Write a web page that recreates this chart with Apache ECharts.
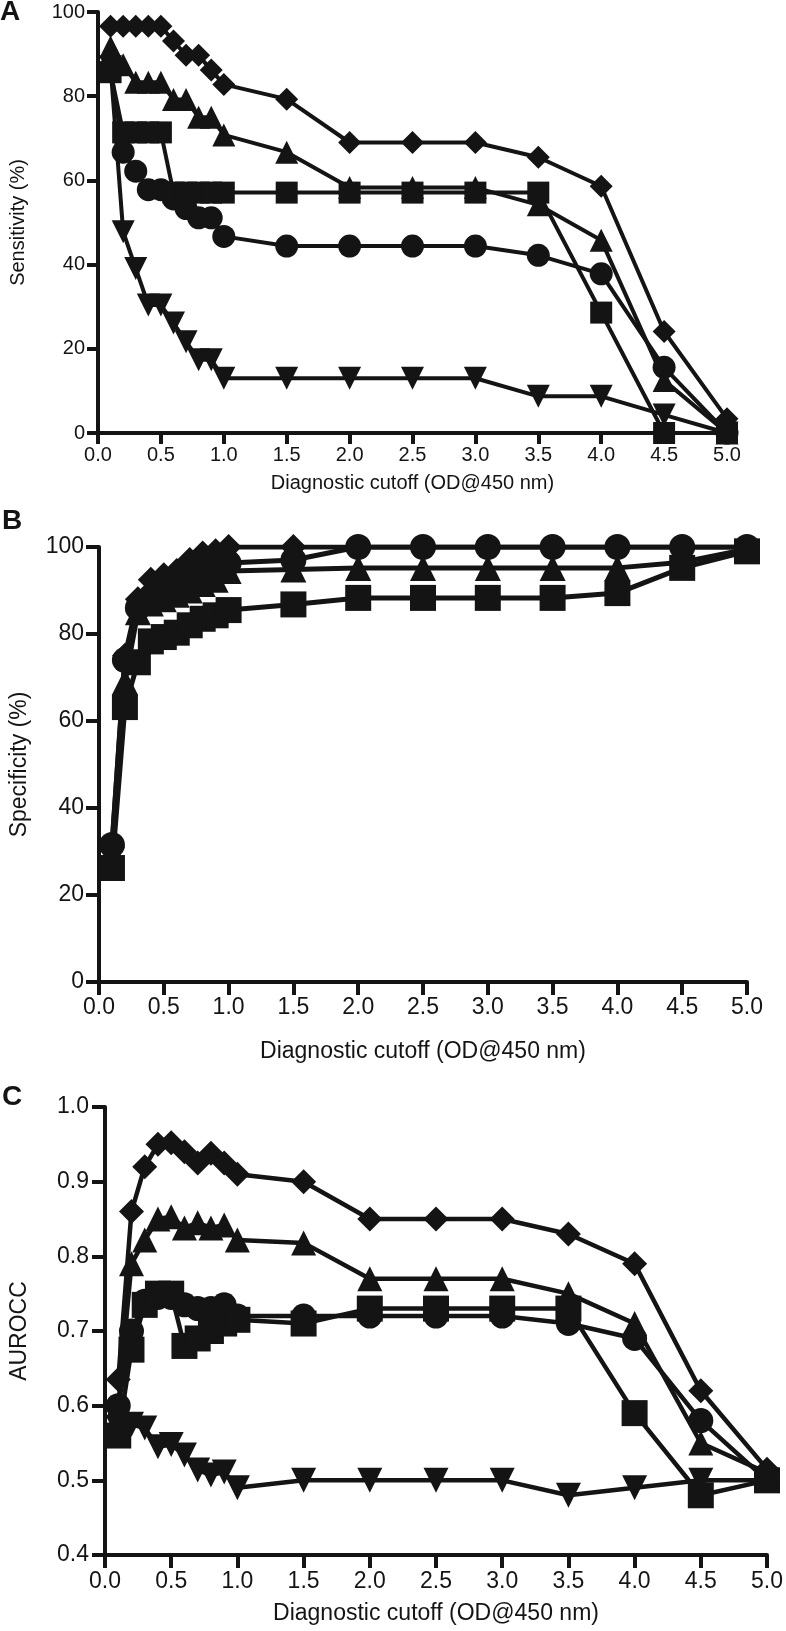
<!DOCTYPE html>
<html>
<head>
<meta charset="utf-8">
<script src="https://cdn.jsdelivr.net/npm/echarts@6/dist/echarts.min.js"></script>
<style>
  html, body { margin: 0; padding: 0; background: #fff; }
  #chart { width: 786px; height: 1631px; }
</style>
</head>
<body>
<div id="chart"></div>
<script>
// cutoff values shared by all three panels
const cutoffs = [0.1, 0.2, 0.3, 0.4, 0.5, 0.6, 0.7, 0.8, 0.9, 1.0, 1.5, 2.0, 2.5, 3.0, 3.5, 4.0, 4.5, 5.0];

// A - sensitivity (%)
const sensDiamond = [96.6, 96.6, 96.6, 96.6, 96.6, 93.1, 89.7, 89.7, 86.2, 82.8, 79.3, 69.0, 69.0, 69.0, 65.5, 58.6, 24.1, 3.4];
const sensTriangle = [91.7, 87.5, 83.3, 83.3, 83.3, 79.2, 79.2, 75.0, 75.0, 70.8, 66.7, 58.3, 58.3, 58.3, 54.2, 45.8, 12.5, 0];
const sensSquare = [85.7, 71.4, 71.4, 71.4, 71.4, 57.1, 57.1, 57.1, 57.1, 57.1, 57.1, 57.1, 57.1, 57.1, 57.1, 28.6, 0, 0];
const sensCircle = [86.7, 66.7, 62.2, 57.8, 57.8, 55.6, 53.3, 51.1, 51.1, 46.7, 44.4, 44.4, 44.4, 44.4, 42.2, 37.8, 15.6, 0];
const sensDown = [87.0, 47.8, 39.1, 30.4, 30.4, 26.1, 21.7, 17.4, 17.4, 13.0, 13.0, 13.0, 13.0, 13.0, 8.7, 8.7, 4.3, 0];

// B - specificity (%)
const specDiamond = [31, 75, 88, 92.5, 93.5, 94.5, 97, 98.5, 99, 100, 100, 100, 100, 100, 100, 100, 100, 100];
const specTriangle = [30, 69, 85, 87, 88, 89, 90, 91.5, 92.5, 94.5, 94.8, 95.2, 95.2, 95.2, 95.2, 95.2, 96.5, 99.5];
const specSquare = [26.2, 63.2, 73.5, 78.3, 79.3, 80.3, 82, 83.5, 84.3, 85.5, 86.8, 88.3, 88.3, 88.3, 88.3, 89.4, 95.2, 99];
const specCircle = [31.5, 74, 86, 88.5, 89.5, 90.5, 92, 93.5, 95, 96.3, 97, 100, 100, 100, 100, 100, 100, 100];

// C - AUROCC
const aucDiamond = [0.635, 0.86, 0.92, 0.95, 0.952, 0.94, 0.925, 0.938, 0.925, 0.91, 0.90, 0.85, 0.85, 0.85, 0.83, 0.79, 0.62, 0.515];
const aucTriangle = [0.60, 0.79, 0.822, 0.85, 0.853, 0.838, 0.845, 0.838, 0.842, 0.822, 0.818, 0.77, 0.77, 0.77, 0.75, 0.71, 0.55, 0.51];
const aucSquare = [0.56, 0.675, 0.735, 0.75, 0.75, 0.68, 0.69, 0.70, 0.71, 0.715, 0.71, 0.73, 0.73, 0.73, 0.73, 0.59, 0.48, 0.50];
const aucCircle = [0.60, 0.70, 0.74, 0.745, 0.745, 0.735, 0.73, 0.73, 0.735, 0.72, 0.72, 0.72, 0.72, 0.72, 0.71, 0.69, 0.58, 0.50];
const aucDown = [0.57, 0.575, 0.57, 0.545, 0.548, 0.534, 0.514, 0.507, 0.511, 0.49, 0.50, 0.50, 0.50, 0.50, 0.48, 0.49, 0.50, 0.50];

const ink = '#141414';
const font = 'Liberation Sans, Arial, Helvetica, sans-serif';

const pairs = (ys) => ys.map((y, i) => [cutoffs[i], y]);

const line = (idx, ys, symbol, size, width, rotate) => ({
  type: 'line',
  xAxisIndex: idx,
  yAxisIndex: idx,
  data: pairs(ys),
  symbol: symbol,
  symbolSize: size,
  symbolRotate: rotate || 0,
  showAllSymbol: true,
  lineStyle: { color: ink, width: width },
  itemStyle: { color: ink },
  emphasis: { disabled: true },
});

const xAxis = (idx, size, margin, gap, tick) => ({
  type: 'value',
  gridIndex: idx,
  min: 0,
  max: 5,
  interval: 0.5,
  name: 'Diagnostic cutoff (OD@450 nm)',
  nameLocation: 'middle',
  nameGap: gap,
  nameTextStyle: { fontFamily: font, fontSize: size, color: ink },
  axisLine: { lineStyle: { color: ink, width: 4 } },
  axisTick: { length: tick, lineStyle: { color: ink, width: 4 } },
  axisLabel: { fontFamily: font, fontSize: size, color: ink, margin: margin, formatter: (v) => v.toFixed(1) },
  splitLine: { show: false },
});

const yAxis = (idx, name, min, max, step, size, margin, gap, tick, dec) => ({
  type: 'value',
  gridIndex: idx,
  min: min,
  max: max,
  interval: step,
  name: name,
  nameLocation: 'middle',
  nameRotate: 90,
  nameGap: gap,
  nameTextStyle: { fontFamily: font, fontSize: size, color: ink },
  axisLine: { show: true, lineStyle: { color: ink, width: 4 } },
  axisTick: { show: true, length: tick, lineStyle: { color: ink, width: 4 } },
  axisLabel: { fontFamily: font, fontSize: size, color: ink, margin: margin, formatter: (v) => v.toFixed(dec) },
  splitLine: { show: false },
});

const chart = echarts.init(document.getElementById('chart'));
chart.setOption({
  animation: false,
  backgroundColor: '#fff',
  grid: [
    { left: 92, top: 12, width: 635, height: 421 },
    { left: 92, top: 547, width: 655, height: 435 },
    { left: 98, top: 1107, width: 672, height: 448 },
  ],
  xAxis: [
    xAxis(0, 20, 12, 40, 11),
    xAxis(1, 23, 14, 58, 13),
    xAxis(2, 23, 15, 47, 13),
  ],
  yAxis: [
    yAxis(0, 'Sensitivity (%)', 0, 100, 20, 20, 13, 70, 11, 0),
    yAxis(1, 'Specificity (%)', 0, 100, 20, 23, 15, 68, 13, 0),
    yAxis(2, 'AUROCC', 0.4, 1.0, 0.1, 23, 16, 74, 13, 1),
  ],
  graphic: [
    { type: 'text', left: 0, top: -2, style: { text: 'A', font: 'bold 28px ' + font, fill: ink } },
    { type: 'text', left: 2, top: 507, style: { text: 'B', font: 'bold 28px ' + font, fill: ink } },
    { type: 'text', left: 2, top: 1083, style: { text: 'C', font: 'bold 28px ' + font, fill: ink } },
  ],
  series: [
    line(0, sensDown, 'triangle', 23, 4, 180),
    line(0, sensCircle, 'circle', 23, 4),
    line(0, sensTriangle, 'triangle', 23, 4),
    line(0, sensSquare, 'rect', 22, 4),
    line(0, sensDiamond, 'diamond', 23, 4),

    line(1, specSquare, 'rect', 26, 5),
    line(1, specTriangle, 'triangle', 26, 5),
    line(1, specDiamond, 'diamond', 26, 5),
    line(1, specCircle, 'circle', 26, 5),

    line(2, aucDown, 'triangle', 25, 4.5, 180),
    line(2, aucCircle, 'circle', 25, 4.5),
    line(2, aucSquare, 'rect', 26, 4.5),
    line(2, aucTriangle, 'triangle', 25, 4.5),
    line(2, aucDiamond, 'diamond', 25, 4.5),
  ],
});
</script>
</body>
</html>
